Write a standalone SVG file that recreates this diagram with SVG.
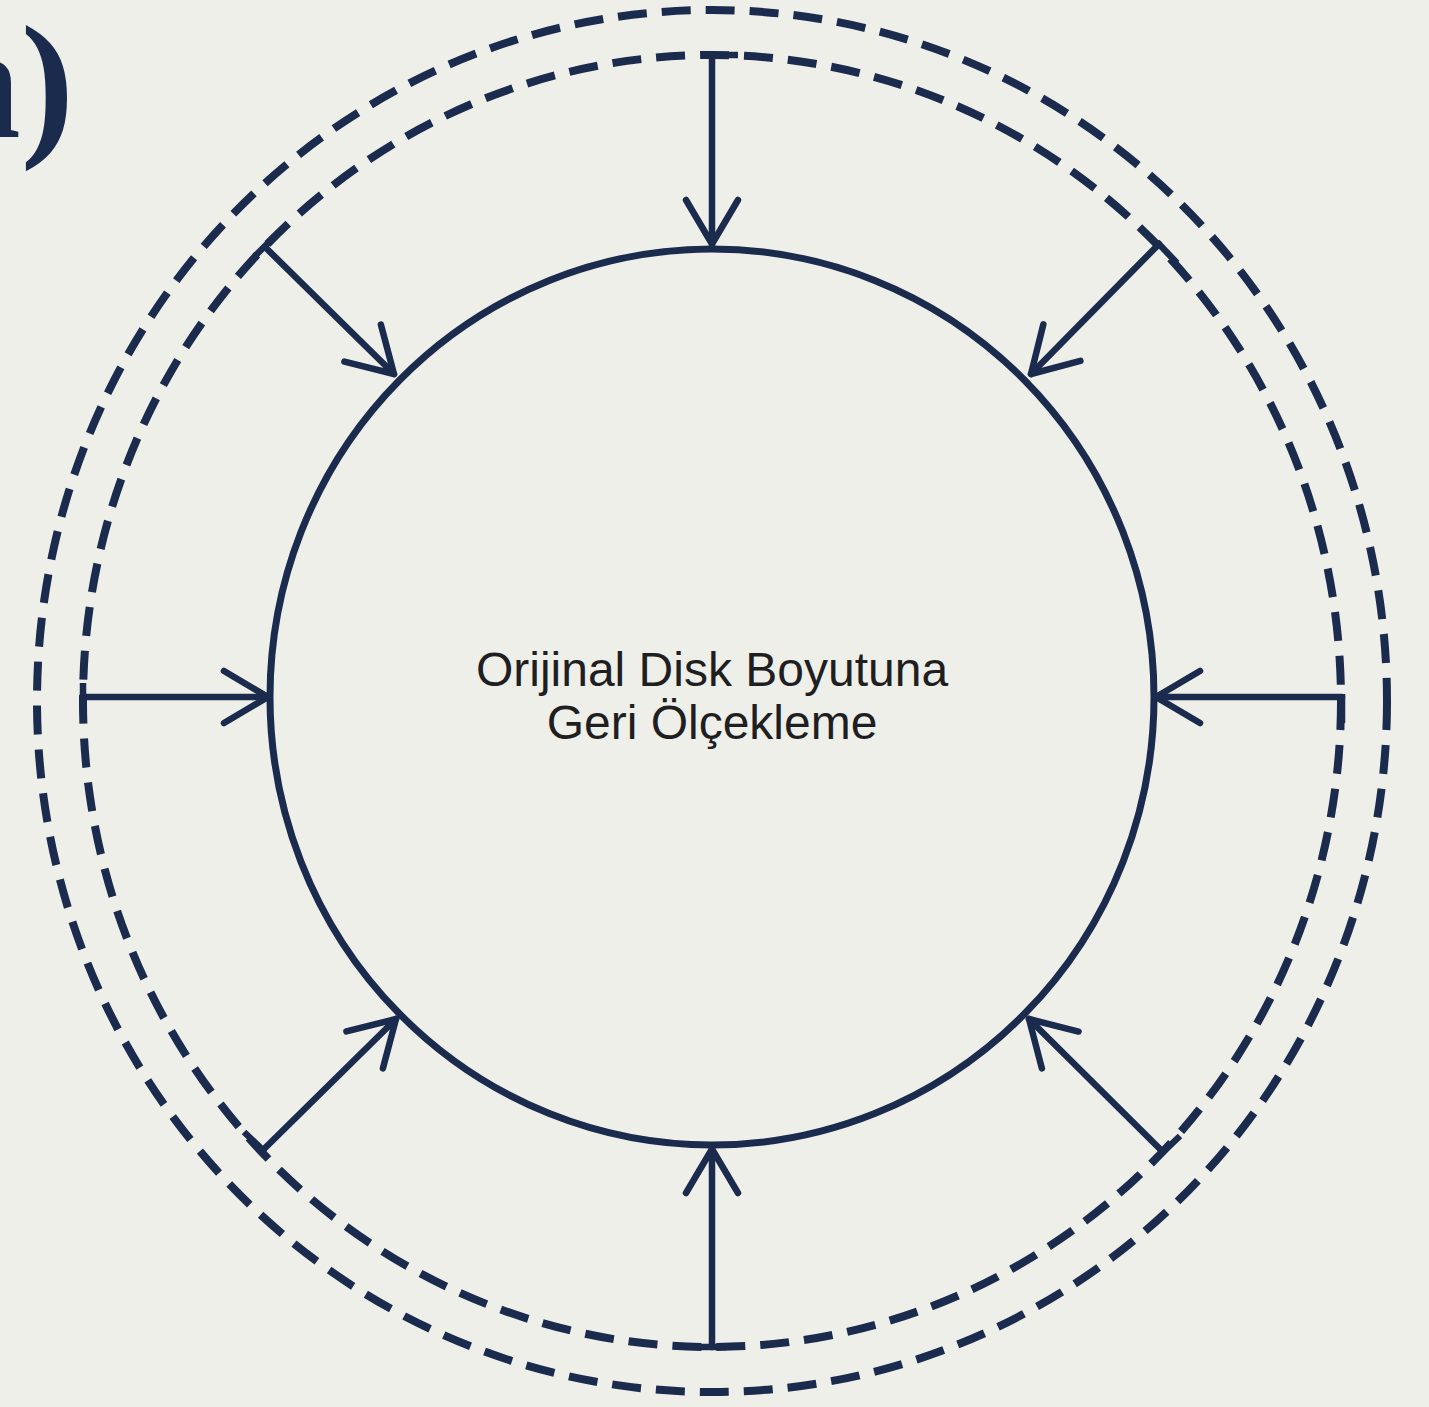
<svg xmlns="http://www.w3.org/2000/svg" width="1429" height="1407" viewBox="0 0 1429 1407">
  <defs>
    <style>
      .bg { fill: #efefea; }
      .ring { fill: none; stroke: #1a2b4d; stroke-width: 7; }
      .dash { fill: none; stroke: #1a2b4d; stroke-width: 8; stroke-dasharray: 29 15; }
      .arrow { fill: none; stroke: #1a2b4d; stroke-width: 6.5; stroke-linecap: round; stroke-linejoin: round; }
      .tick { fill: none; stroke: #1a2b4d; stroke-width: 6.5; stroke-linecap: butt; }
      .label { font-family: "Liberation Sans", Arial, sans-serif; font-size: 48px; fill: #1f1f22; text-anchor: middle; }
      .title { font-family: "Liberation Serif", "Times New Roman", serif; font-weight: bold; font-size: 160px; fill: #1a2b4d; text-anchor: end; }
    </style>
    <marker id="arr" markerUnits="userSpaceOnUse" viewBox="-60 -40 70 80" refX="0" refY="0" markerWidth="70" markerHeight="80" orient="auto" overflow="visible">
      <path d="M-44,-26 L0,0 L-44,26" fill="none" stroke="#1a2b4d" stroke-width="6.5" stroke-linecap="round" stroke-linejoin="round"/>
    </marker>
  </defs>
  <rect class="bg" x="0" y="0" width="1429" height="1407"/>
  <text class="title" x="74" y="137">n)</text>

  <g id="outer-boundary">
    <ellipse class="dash" cx="712" cy="701" rx="675" ry="691"/>
  </g>
  <g id="inner-boundary">
    <ellipse class="dash" cx="712" cy="701" rx="629" ry="646"/>
  </g>
  <g id="disk">
    <ellipse class="ring" cx="712" cy="697" rx="442" ry="448"/>
    <text class="label" x="712" y="686">Orijinal Disk Boyutuna</text>
    <text class="label" x="712" y="739">Geri Ölçekleme</text>
  </g>

  <g id="connectors">
    <line class="arrow" x1="712" y1="55" x2="712" y2="244" marker-end="url(#arr)"/>
    <line class="tick" x1="709" y1="55" x2="738" y2="55"/>

    <line class="arrow" x1="1342" y1="697" x2="1156" y2="697" marker-end="url(#arr)"/>
    <line class="tick" x1="1342" y1="694" x2="1342" y2="723"/>

    <line class="arrow" x1="712" y1="1347" x2="712" y2="1149" marker-end="url(#arr)"/>
    <line class="tick" x1="697" y1="1347" x2="727" y2="1347"/>

    <line class="arrow" x1="83" y1="697" x2="268" y2="697" marker-end="url(#arr)"/>
    <line class="tick" x1="83" y1="683" x2="83" y2="712"/>

    <line class="arrow" x1="265" y1="247" x2="394" y2="374" marker-end="url(#arr)"/>
    <line class="tick" x1="255" y1="256" x2="274" y2="237"/>

    <line class="arrow" x1="1159" y1="244" x2="1031" y2="374" marker-end="url(#arr)"/>
    <line class="tick" x1="1157" y1="242" x2="1177" y2="263"/>

    <line class="arrow" x1="1163" y1="1152" x2="1029" y2="1019" marker-end="url(#arr)"/>
    <line class="tick" x1="1161" y1="1154" x2="1180" y2="1136"/>

    <line class="arrow" x1="263" y1="1150" x2="396" y2="1019" marker-end="url(#arr)"/>
    <line class="tick" x1="265" y1="1152" x2="244" y2="1132"/>
  </g>
</svg>
